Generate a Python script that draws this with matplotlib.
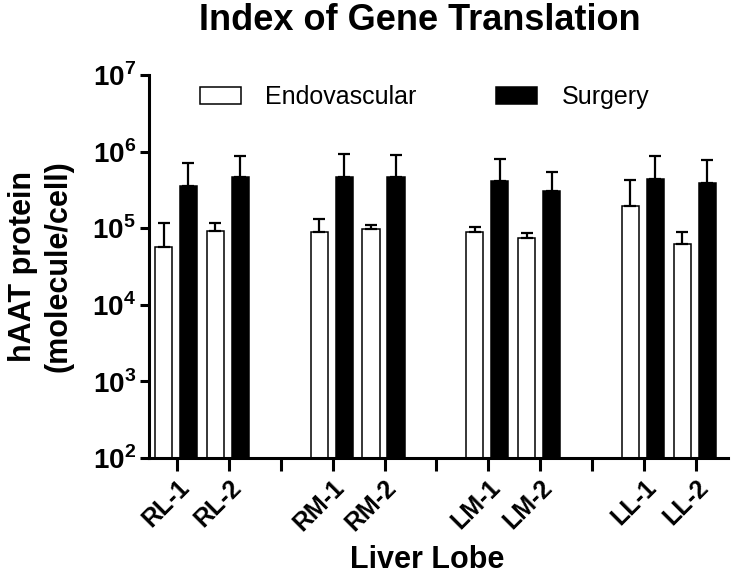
import numpy as np
import matplotlib
matplotlib.use("Agg")
import matplotlib.pyplot as plt
from matplotlib.ticker import FixedLocator, FuncFormatter

plt.rcParams['font.family'] = ['Liberation Sans', 'DejaVu Sans']
plt.rcParams['mathtext.fontset'] = 'custom'
plt.rcParams['mathtext.rm'] = 'Liberation Sans:bold'
plt.rcParams['mathtext.bf'] = 'Liberation Sans:bold'

# data
samples = ['RL-1', 'RL-2', 'RM-1', 'RM-2', 'LM-1', 'LM-2', 'LL-1', 'LL-2']
endo = [5.6e4, 9.2e4, 8.8e4, 9.8e4, 8.9e4, 7.5e4, 1.95e5, 6.3e4]
endo_top = [1.17e5, 1.17e5, 1.33e5, 1.11e5, 1.05e5, 8.6e4, 4.3e5, 8.9e4]
surgery = [3.55e5, 4.66e5, 4.7e5, 4.66e5, 4.13e5, 3.06e5, 4.44e5, 3.9e5]
surgery_top = [7.0e5, 8.85e5, 9.4e5, 9.0e5, 8.0e5, 5.4e5, 8.7e5, 7.7e5]

endo_err = np.array(endo_top) - np.array(endo)
surgery_err = np.array(surgery_top) - np.array(surgery)

# pairs of lobes separated by an empty slot
pos = np.array([i + i // 2 for i in range(len(samples))])
n_slots = pos[-1] + 1
slot_labels = [''] * n_slots
for p, s in zip(pos, samples):
    slot_labels[p] = s

fig = plt.figure(figsize=(7.32, 5.77), dpi=100)
ax = fig.add_axes([149 / 732, 1 - 458 / 577, (728 - 149) / 732, (458 - 75) / 577])

w = 0.33
err_kw = dict(elinewidth=1.6, capthick=1.6, capsize=4, ecolor='black')
ax.bar(pos - 0.26, endo, w, color='white', edgecolor='black', linewidth=1.1,
       yerr=[np.zeros(len(endo)), endo_err], error_kw=err_kw, label='Endovascular')
ax.bar(pos + 0.22, surgery, w, color='black', edgecolor='black', linewidth=1.1,
       yerr=[np.zeros(len(surgery)), surgery_err], error_kw=err_kw, label='Surgery')

ax.set_yscale('log')
ax.set_ylim(1e2, 1e7)
ax.set_xlim(-0.54, n_slots - 1 + 0.62)

ax.yaxis.set_major_locator(FixedLocator([1e2, 1e3, 1e4, 1e5, 1e6, 1e7]))
ax.yaxis.set_minor_locator(FixedLocator([]))
ax.yaxis.set_major_formatter(FuncFormatter(lambda v, _: r'$10^{%d}$' % round(np.log10(v))))

ax.set_xticks(np.arange(n_slots))
ax.set_xticklabels(slot_labels, rotation=45, ha='right', va='top',
                   rotation_mode='anchor', fontsize=18, fontweight='bold')

for side in ['top', 'right']:
    ax.spines[side].set_visible(False)
for side in ['left', 'bottom']:
    ax.spines[side].set_linewidth(2.2)

ax.tick_params(axis='y', which='major', length=6.5, width=2.2, pad=3, labelsize=20)
ax.tick_params(axis='x', which='major', length=9.5, width=2.2, pad=3)

ax.set_ylabel('hAAT protein\n(molecule/cell)', fontsize=22, fontweight='bold',
              linespacing=1.25)
ax.yaxis.set_label_coords(-0.13, 0.5)
ax.set_xlabel('Liver Lobe', fontsize=22, fontweight='bold')
ax.xaxis.set_label_coords(0.48, -0.228)

fig.text(420 / 732, 0.995, 'Index of Gene Translation', ha='center', va='top',
         fontsize=26, fontweight='bold')

ax.legend(loc='center left', bbox_to_anchor=((200 - 149) / 579, (458 - 97) / 383),
          ncol=2, frameon=False, fontsize=18, handlelength=1.64, handleheight=0.68,
          handletextpad=0.96, columnspacing=3.2, borderpad=0, borderaxespad=0)

fig.savefig('out.png', dpi=100)
